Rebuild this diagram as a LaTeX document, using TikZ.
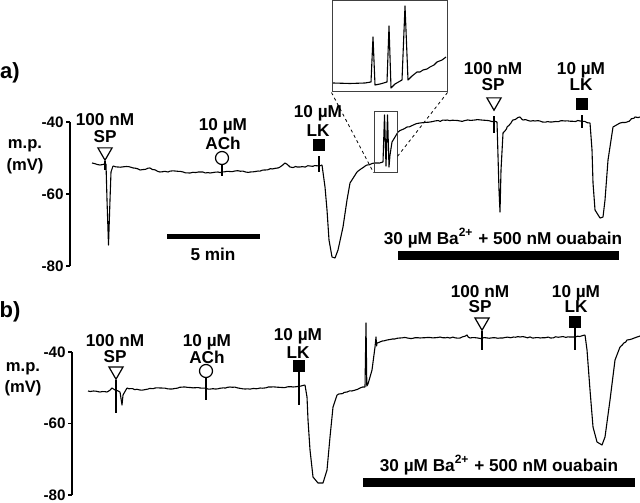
\documentclass[tikz,border=0pt]{standalone}
\usepackage{fontspec}
\setmainfont{Liberation Sans}
\usetikzlibrary{shapes.geometric,decorations.pathmorphing}

\tikzset{
	trace/.style={line width=0.55pt,line join=round,decorate,decoration={random steps,segment length=1.3pt,amplitude=0.3pt}},
	cleantrace/.style={line width=0.55pt,line join=round},
	axisline/.style={line width=0.55pt},
	stemline/.style={line width=0.55pt},
	spmark/.style={regular polygon,regular polygon sides=3,shape border rotate=180,draw=black,line width=0.6pt,inner sep=0pt,minimum size=8.2pt},
	achmark/.style={circle,draw=black,line width=0.6pt,inner sep=0pt,minimum size=6.5pt},
	lkmark/.style={rectangle,fill=black,inner sep=0pt,minimum size=6pt},
	druglbl/.style={anchor=base,font=\fontsize{8.6}{9}\selectfont\bfseries,inner sep=0pt},
	barlbl/.style={font=\fontsize{8.6}{9}\selectfont\bfseries,inner sep=0pt},
	ticklbl/.style={anchor=east,font=\fontsize{7.6}{9}\selectfont\bfseries,inner sep=0pt},
	unitlbl/.style={font=\fontsize{8.3}{9}\selectfont\bfseries,inner sep=0pt},
	panellbl/.style={font=\fontsize{11}{12}\selectfont\bfseries,inner sep=0pt},
	drugbar/.style={fill=black,draw=none},
}

\begin{document}
\begin{tikzpicture}[x=0.5pt,y=-0.5pt]
	\pgfmathsetseed{11}
	\useasboundingbox (0,0) rectangle (640,502);

	% panel a
	\node[panellbl] (pa) at (10,73) {a)};
	\node[unitlbl] (mpA) at (25,146) {m.p.};
	\node[unitlbl] (mvA) at (25,166) {(mV)};
	\draw[axisline] (70,122) -- (70,266);
	\foreach \y/\v in {122/-40,194/-60,266/-80} {
		\draw[axisline] (66,\y) -- (70,\y);
		\node[ticklbl] (tkA\v) at (64,\y) {\v};
	}

	\draw[trace] plot coordinates {(92,163) (100,165) (104,164) (106,164)};
	\draw[cleantrace] plot coordinates {(106,164) (107,200) (108.5,245) (110,200) (111,172) (113,166)};
	\draw[trace] plot coordinates {(113,166) (118,167) (130,167) (140,170) (150,168) (160,172) (175,171) (190,173) (200,172) (210,173) (222,172) (235,171) (250,172) (265,170) (280,167) (285,163) (290,167) (300,167) (310,166) (322,165)};
	\draw[cleantrace] plot coordinates {(322,165) (325,187) (327,210) (329,240) (332,257) (335,258) (338,250) (343,227) (347,200) (350,183) (357,172)};
	\draw[trace] plot coordinates {(357,172) (367,165) (377,163) (383,162)};
	\draw[cleantrace] plot coordinates {(383,162) (384.5,115) (386,166) (387.5,115) (389,167) (390,155) (392,142) (398,132)};
	\draw[trace] plot coordinates {(398,132) (407,127) (420,123) (430,122) (447,120) (460,121) (475,120) (490,121) (497,122)};
	\draw[cleantrace] plot coordinates {(497,122) (499,190) (500,212) (501,170) (503,133)};
	\draw[trace] plot coordinates {(503,133) (507,127) (513,120) (520,117) (523,120) (535,121) (550,122) (565,121) (580,121) (590,123)};
	\draw[cleantrace] plot coordinates {(590,123) (592,150) (593,183) (595,210) (600,218) (603,217) (605,200) (608,160) (613,127) (620,123)};
	\draw[trace] plot coordinates {(620,123) (627,122) (635,117) (640,117)};

	\node[spmark] (spA) at (105,152) {};
	\draw[stemline] (spA.south) -- (105,170);
	\node[druglbl] (spAdose) at (105,126) {100 nM};
	\node[druglbl] (spAname) at (105,142) {SP};
	\node[achmark] (achA) at (222,158) {};
	\draw[stemline] (achA.south) -- (222,176);
	\node[druglbl] (achAdose) at (223,131) {10 µM};
	\node[druglbl] (achAname) at (223,149) {ACh};
	\node[lkmark] (lkA) at (319,145) {};
	\draw[stemline] (lkA.south) ++(0,5) -- (319,172);
	\node[druglbl] (lkAdose) at (318,118) {10 µM};
	\node[druglbl] (lkAname) at (318,136) {LK};
	\node[spmark] (spA2) at (494,102) {};
	\draw[stemline] (spA2.south) ++(0,5) -- (494,133);
	\node[druglbl] (spA2dose) at (493,75) {100 nM};
	\node[druglbl] (spA2name) at (493,91) {SP};
	\node[lkmark] (lkA2) at (582,104) {};
	\draw[stemline] (lkA2.south) ++(0,5) -- (582,128);
	\node[druglbl] (lkA2dose) at (581,75) {10 µM};
	\node[druglbl] (lkA2name) at (581,91) {LK};

	% inset
	\node[draw=black!75,line width=0.5pt,minimum width=57.5pt,minimum height=45.5pt,inner sep=0pt] (inset) at (389.5,46.5) {};
	\node[draw=black!75,line width=0.5pt,minimum width=11.5pt,minimum height=30pt,inner sep=0pt] (zoombox) at (385.5,142) {};
	\coordinate (zoomtip) at (397,157);
	\draw[line width=0.4pt,dash pattern=on 1.5pt off 1.5pt] (inset.south west) -- (zoombox.south west);
	\draw[line width=0.4pt,dash pattern=on 1.5pt off 1.5pt] (inset.south east) -- (zoomtip);
	\draw[cleantrace] plot coordinates {(333,83) (350,83.5) (365,83) (371,82) (373,37) (375,85) (380,84) (387,82) (389,26) (391,88) (395,84) (402,80) (405,6) (408,80) (412,76) (417,72) (420,72) (423,70) (427,69) (430,67) (434,65) (437,62) (442,60) (446,57)};

	\draw[drugbar] (167,234) rectangle (260,239);
	\node[barlbl] (minA) at (213,254) {5 min};
	\node[barlbl] (baA) at (503,238) {30 µM Ba\textsuperscript{2+} + 500 nM ouabain};
	\draw[drugbar] (398,251) rectangle (619,260);

	% panel b
	\node[panellbl] (pb) at (10,312) {b)};
	\node[unitlbl] (mpB) at (23,369) {m.p.};
	\node[unitlbl] (mvB) at (23,388) {(mV)};
	\draw[axisline] (72,352) -- (72,495);
	\foreach \y/\v in {352/-40,423.5/-60,495/-80} {
		\draw[axisline] (68,\y) -- (72,\y);
		\node[ticklbl] (tkB\v) at (66,\y) {\v};
	}

	\draw[trace] plot coordinates {(88,391) (100,392) (107,392) (112,388) (115,390) (120,392)};
	\draw[cleantrace] plot coordinates {(120,392) (122,405) (123,395) (127,388)};
	\draw[trace] plot coordinates {(127,388) (140,390) (155,388) (170,389) (185,387) (200,388) (215,389) (230,387) (245,389) (260,388) (275,387) (293,387) (305,385)};
	\draw[cleantrace] plot coordinates {(305,385) (307,397) (308,420) (310,450) (313,477) (318,483) (323,483) (327,470) (330,437) (333,407) (337,395)};
	\draw[trace] plot coordinates {(337,395) (347,392) (360,388) (365,387)};
	\draw[cleantrace] plot coordinates {(365,387) (366,323) (366.8,386) (368,384) (372,370) (375,347) (376,337) (376.6,346) (377,343)};
	\draw[trace] plot coordinates {(377,343) (387,340) (400,338) (420,338) (440,337) (460,338) (467,335) (470,338) (482,338) (500,338) (520,337) (540,338) (560,337) (575,337) (585,335)};
	\draw[cleantrace] plot coordinates {(585,335) (587,350) (590,390) (593,427) (597,442) (602,445) (605,437) (610,400) (615,360) (620,347)};
	\draw[trace] plot coordinates {(620,347) (627,340) (637,337) (640,336)};

	\node[spmark] (spB) at (116,371) {};
	\draw[stemline] (spB.south) -- (116,413);
	\node[druglbl] (spBdose) at (115,346) {100 nM};
	\node[druglbl] (spBname) at (115,362) {SP};
	\node[achmark] (achB) at (206,371) {};
	\draw[stemline] (achB.south) -- (206,400);
	\node[druglbl] (achBdose) at (207,346) {10 µM};
	\node[druglbl] (achBname) at (207,363) {ACh};
	\node[lkmark] (lkB) at (299,366) {};
	\draw[stemline] (lkB.south) -- (299,405);
	\node[druglbl] (lkBdose) at (298,340) {10 µM};
	\node[druglbl] (lkBname) at (298,358) {LK};
	\node[spmark] (spB2) at (482,322) {};
	\draw[stemline] (spB2.south) -- (482,350);
	\node[druglbl] (spB2dose) at (480,297) {100 nM};
	\node[druglbl] (spB2name) at (480,312) {SP};
	\node[lkmark] (lkB2) at (575,322) {};
	\draw[stemline] (lkB2.south) -- (575,350);
	\node[druglbl] (lkB2dose) at (576,297) {10 µM};
	\node[druglbl] (lkB2name) at (576,312) {LK};

	\node[barlbl] (baB) at (499,465) {30 µM Ba\textsuperscript{2+} + 500 nM ouabain};
	\draw[drugbar] (363,478) rectangle (635,487);
\end{tikzpicture}
\end{document}
